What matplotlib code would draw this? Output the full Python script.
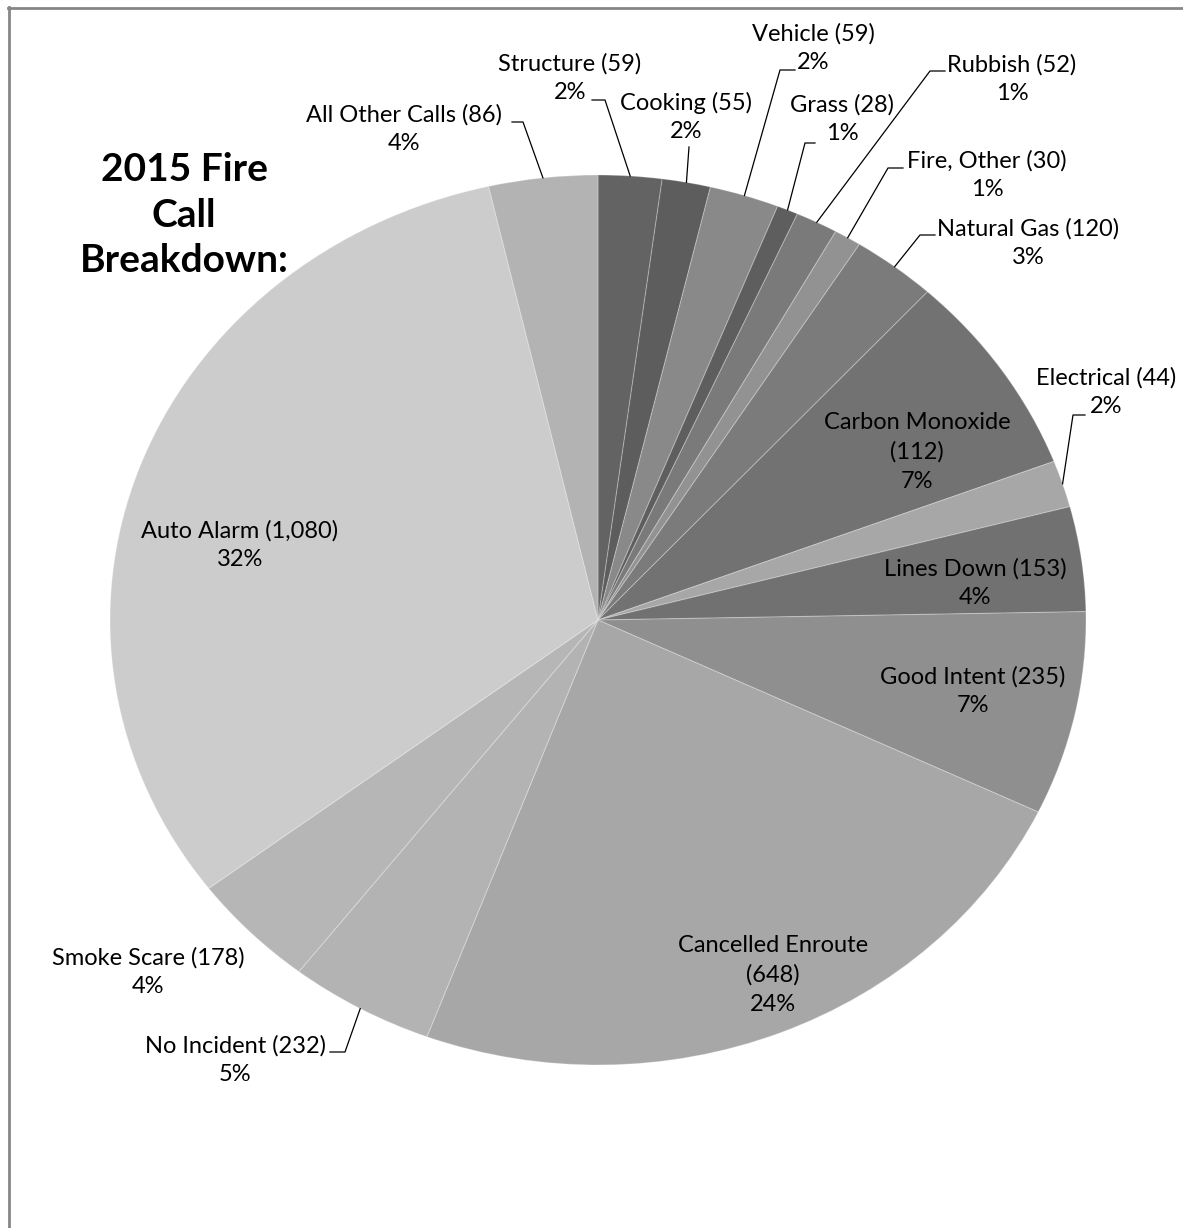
import matplotlib
matplotlib.use("Agg")
import numpy as np
from matplotlib import pyplot as plt
from matplotlib.lines import Line2D

plt.rcParams["font.family"] = ["Lato", "DejaVu Sans"]

# call types, clockwise from 12 o'clock
categories = [
    "Structure", "Cooking", "Vehicle", "Grass", "Rubbish", "Fire, Other",
    "Natural Gas", "Carbon Monoxide", "Electrical", "Lines Down",
    "Good Intent", "Cancelled Enroute", "No Incident", "Smoke Scare",
    "Auto Alarm", "All Other Calls",
]
counts = [59, 55, 59, 28, 52, 30, 120, 112, 44, 153, 235, 648, 232, 178, 1080, 86]
# share of the pie (%)
shares = [2.1, 1.6, 2.3, 0.7, 1.4, 0.9, 2.8, 7.4, 1.7, 3.8, 7.4, 23.6, 4.8, 4.2, 31.7, 3.6]
colors = [
    "#636363", "#5d5d5d", "#898989", "#5e5e5e", "#7a7a7a", "#929292",
    "#7b7b7b", "#727272", "#a7a7a7", "#717171", "#8f8f8f", "#a7a7a7",
    "#b3b3b3", "#b6b6b6", "#cccccc", "#b3b3b3",
]

# label layout in figure pixels (from top-left): text centre, leader knee, leader end
layout = {
    "Structure": ((570, 78), (605, 100), (592, 100)),
    "Cooking": ((686, 117), (689, 147), (689, 147)),
    "Vehicle": ((813, 48), (780, 70), (795, 70)),
    "Grass": ((842, 119), (805, 143), (815, 143)),
    "Rubbish": ((1012, 79), (930, 71), (945, 71)),
    "Fire, Other": ((987, 175), (888, 168), (903, 168)),
    "Natural Gas": ((1028, 243), (920, 235), (935, 235)),
    "Carbon Monoxide": ((917, 452), None, None),
    "Electrical": ((1106, 392), (1073, 415), (1085, 415)),
    "Lines Down": ((975, 583), None, None),
    "Good Intent": ((973, 691), None, None),
    "Cancelled Enroute": ((773, 975), None, None),
    "No Incident": ((235, 1060), (345, 1052), (330, 1052)),
    "Smoke Scare": ((148, 972), None, None),
    "Auto Alarm": ((240, 545), None, None),
    "All Other Calls": ((404, 129), (523, 122), (512, 122)),
}
split_name = {"Carbon Monoxide", "Cancelled Enroute"}

W, H = 1183, 1228
CX, CY, RX, RY = 598, 620, 488, 445

fig = plt.figure(figsize=(W / 100, H / 100), dpi=100)
ax = fig.add_axes([0, 0, 1, 1])

wedges, _ = ax.pie(
    shares, colors=colors, startangle=90, counterclock=False, radius=1,
    wedgeprops=dict(edgecolor=(1, 1, 1, 0.25), linewidth=0.8),
)
ax.set_aspect("auto")
ax.set_xlim(-CX / RX, (W - CX) / RX)
ax.set_ylim(-(H - CY) / RY, CY / RY)
ax.axis("off")


def px(x, y):
    return (x - CX) / RX, (CY - y) / RY


total = sum(shares)
for wedge, name, n, s in zip(wedges, categories, counts, shares):
    (tx, ty), knee, end = layout[name]
    sep = "\n" if name in split_name else " "
    label = f"{name}{sep}({n:,})\n{round(s / total * 100)}%"
    ax.text(*px(tx, ty), label, ha="center", va="center", fontsize=17,
            linespacing=1.45, color="black")
    if knee is not None:
        mid = np.deg2rad((wedge.theta1 + wedge.theta2) / 2)
        kx, ky = px(*knee)
        ex, ey = px(*end)
        ax.plot([np.cos(mid), kx, ex], [np.sin(mid), ky, ey],
                color="black", lw=0.9)

ax.text(*px(184, 215), "2015 Fire\nCall\nBreakdown:", ha="center", va="center",
        fontsize=28, fontweight="bold", linespacing=1.37)

# chart border (top and left edges)
fig.add_artist(Line2D([8 / W, 1], [1 - 8 / H, 1 - 8 / H], color="#868686", lw=2,
                      transform=fig.transFigure))
fig.add_artist(Line2D([8.5 / W, 8.5 / W], [0, 1 - 7 / H], color="#868686", lw=2,
                      transform=fig.transFigure))

fig.savefig("out.png", dpi=100)
